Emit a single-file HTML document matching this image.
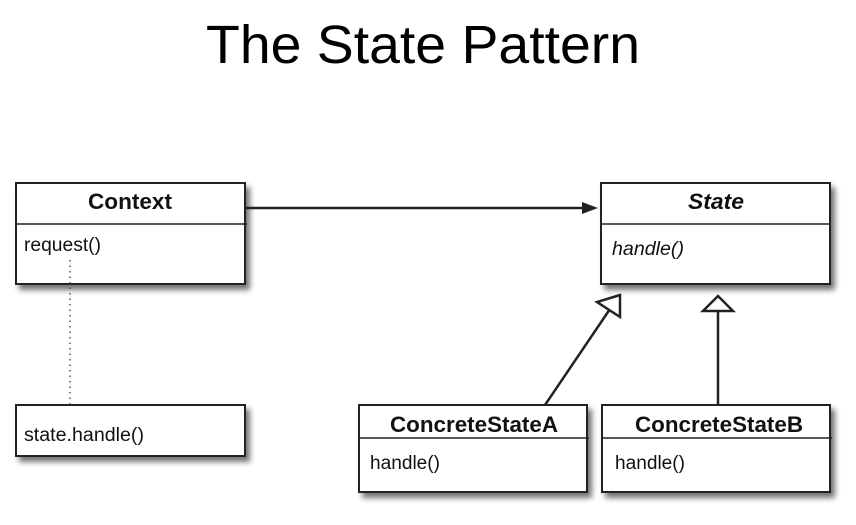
<!DOCTYPE html>
<html><head><style>
html,body{margin:0;padding:0;background:#fff;}
svg text{font-family:"Liberation Sans",sans-serif;fill:#111;}
</style></head><body>
<svg width="856" height="520" viewBox="0 0 856 520" xmlns="http://www.w3.org/2000/svg">
<defs>
<filter id="sh" x="-10%" y="-10%" width="130%" height="140%">
<feGaussianBlur in="SourceAlpha" stdDeviation="3"/>
<feOffset dx="4" dy="5"/>
<feComponentTransfer><feFuncA type="linear" slope="0.55"/></feComponentTransfer>
<feMerge><feMergeNode/><feMergeNode in="SourceGraphic"/></feMerge>
</filter>
</defs>
<text x="206" y="63" font-size="54" textLength="434" lengthAdjust="spacingAndGlyphs" style="fill:#000">The State Pattern</text>

<g stroke="#222" stroke-width="2" fill="#fff">
<rect x="16" y="183" width="229" height="101" filter="url(#sh)"/>
<rect x="16" y="405" width="229" height="51" filter="url(#sh)"/>
<rect x="601" y="183" width="229" height="101" filter="url(#sh)"/>
<rect x="359" y="405" width="228" height="87" filter="url(#sh)"/>
<rect x="602" y="405" width="228" height="87" filter="url(#sh)"/>
</g>
<g stroke="#222" stroke-width="1.5">
<line x1="16" y1="224" x2="247" y2="224"/>
<line x1="601" y1="224" x2="830" y2="224"/>
<line x1="359" y1="438" x2="589" y2="438"/>
<line x1="602" y1="438" x2="832" y2="438"/>
</g>
<text x="88" y="209" font-size="22" font-weight="bold" textLength="84" lengthAdjust="spacingAndGlyphs">Context</text>
<text x="24" y="251" font-size="19" textLength="77" lengthAdjust="spacingAndGlyphs">request()</text>
<text x="24" y="441" font-size="19" textLength="120" lengthAdjust="spacingAndGlyphs">state.handle()</text>
<text x="688" y="209" font-size="22" font-weight="bold" font-style="italic" textLength="56" lengthAdjust="spacingAndGlyphs">State</text>
<text x="612" y="255" font-size="19" font-style="italic" textLength="72" lengthAdjust="spacingAndGlyphs">handle()</text>
<text x="390" y="432" font-size="22" font-weight="bold" textLength="168" lengthAdjust="spacingAndGlyphs">ConcreteStateA</text>
<text x="370" y="469" font-size="19" textLength="70" lengthAdjust="spacingAndGlyphs">handle()</text>
<text x="635" y="432" font-size="22" font-weight="bold" textLength="168" lengthAdjust="spacingAndGlyphs">ConcreteStateB</text>
<text x="615" y="469" font-size="19" textLength="70" lengthAdjust="spacingAndGlyphs">handle()</text>

<line x1="70" y1="260" x2="70" y2="405" stroke="#555" stroke-width="1.5" stroke-dasharray="1.5,4"/>
<line x1="246" y1="208" x2="588" y2="208" stroke="#222" stroke-width="2.5"/>
<polygon points="598,208 582,202 582,214" fill="#222"/>
<line x1="545" y1="405" x2="610" y2="309" stroke="#222" stroke-width="2.5"/>
<polygon points="620,295 597,302 620,317" fill="#fff" stroke="#222" stroke-width="2.5"/>
<line x1="718" y1="405" x2="718" y2="311" stroke="#222" stroke-width="2.5"/>
<polygon points="718,296 703,311 733,311" fill="#fff" stroke="#222" stroke-width="2.5"/>
</svg>
</body></html>
